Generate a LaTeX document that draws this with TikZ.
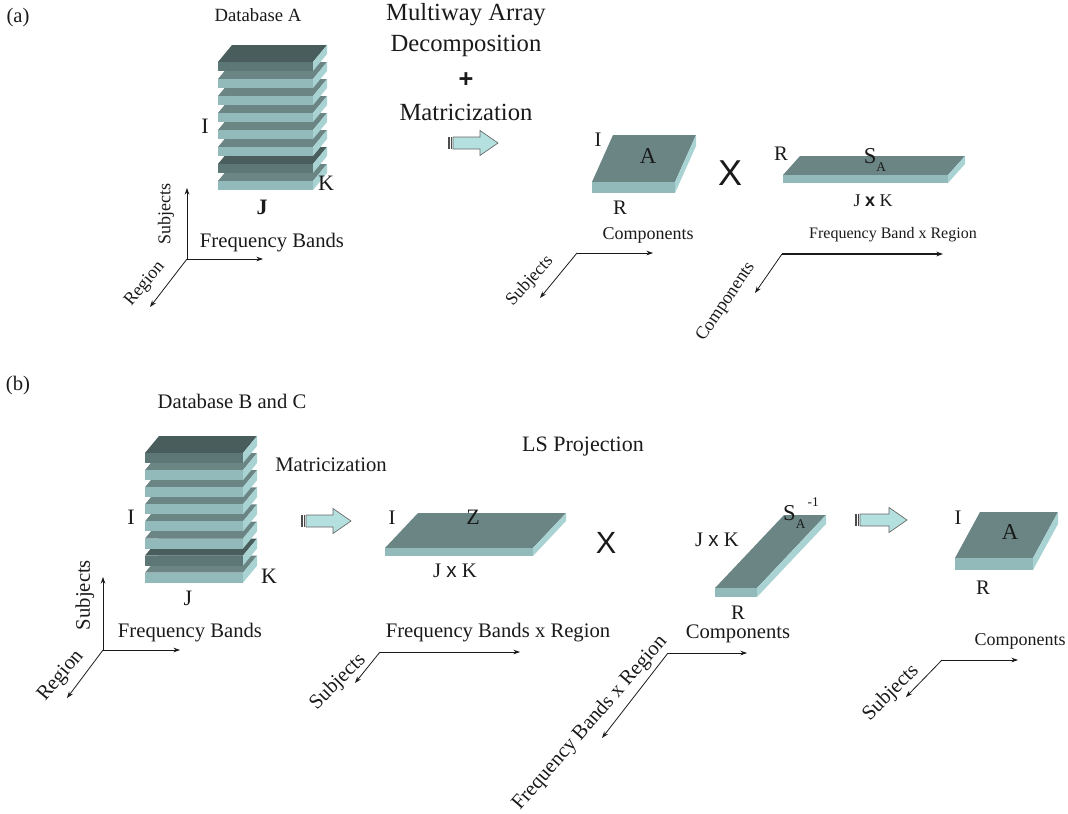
\documentclass[tikz,border=0pt]{standalone}
\usepackage{fontspec}
\setmainfont{Liberation Serif}
\newfontfamily\sansx{Liberation Sans}
\usetikzlibrary{arrows.meta,positioning}

\definecolor{ink}{HTML}{1A1A1A}
\definecolor{slabtop}{HTML}{6B8585}
\definecolor{slabfront}{HTML}{93BABA}
\definecolor{slabside}{HTML}{A9D3D3}
\definecolor{slabdark}{HTML}{4A5D5D}
\definecolor{slabmid}{HTML}{5D7777}
\definecolor{arrowfill}{HTML}{B5E0E0}

% one slab: front-left corner x,y; width; depth dx,dy; thickness; top and front colour
\newcommand{\slab}[8]{%
  \fill[#7] (#1,#2) -- ++(#3,0) -- ++(#4,#5) -- ++(-#3,0) -- cycle;
  \fill[#8] (#1,#2) rectangle ++(#3,#6);
  \fill[slabside] (#1+#3,#2) -- ++(#4,#5) -- ++(0,#6) -- (#1+#3,#2+#6) -- cycle;
}
% block arrow: tail x,y; length
\newcommand{\hollowarrow}[3]{%
  \draw[hollow] (#1+5,#2-6) -- (#1+#3-18,#2-6) -- (#1+#3-18,#2-12.5) -- (#1+#3,#2)
    -- (#1+#3-18,#2+12.5) -- (#1+#3-18,#2+6) -- (#1+5,#2+6) -- cycle;
  \fill[gray!60!black] (#1,#2-6) rectangle (#1+1.8,#2+6);
  \fill[gray!60!black] (#1+3,#2-6) rectangle (#1+4.2,#2+6);
}

\tikzset{
  big/.style={font=\fontsize{18.5}{21}\selectfont},
  mid/.style={font=\fontsize{15.5}{18}\selectfont},
  sml/.style={font=\fontsize{13.5}{16}\selectfont},
  tny/.style={font=\fontsize{12}{14}\selectfont},
  dim/.style={font=\fontsize{16.5}{19}\selectfont},
  times/.style={font=\sansx\fontsize{27}{30}\selectfont},
  axis/.style={-{Stealth[length=5pt,width=3.5pt]}, line width=0.6pt, ink},
  hollow/.style={fill=arrowfill, draw=gray!80!black, line width=0.5pt},
}

\begin{document}
\begin{tikzpicture}[x=0.75pt,y=-0.75pt, every node/.style={text=ink, inner sep=0pt}]
\useasboundingbox (0,0) rectangle (1068,814);

%%% (a)
\node[mid] (laba) at (18,18) {(a)};
\node[font=\fontsize{14}{16}\selectfont] (dbA) at (258,15) {Database A};

% stack A
\foreach \i/\tc/\fc in {7/slabtop/slabfront, 6/slabdark/slabmid, 5/slabtop/slabfront,
    4/slabtop/slabfront, 3/slabtop/slabfront, 2/slabtop/slabfront,
    1/slabtop/slabfront, 0/slabdark/slabmid}
  {\slab{218}{62+17*\i}{95}{14}{-17}{9}{\tc}{\fc}}
\node[dim] (IA) at (205,126) {I};
\node[dim] (JA) at (262,207) {\textbf{J}};
\node[dim] (KA) at (326,183) {K};

\coordinate (oA) at (187,259);
\coordinate (oAu) at (187,188);
\coordinate (oAr) at (263,259);
\coordinate (oAd) at (150,307);
\foreach \e in {oAu,oAr,oAd} \draw[axis] (oA) -- (\e);
\node[sml, rotate=90] (subjA) at (166,214) {Subjects};
\node[mid] (freqA) at (272,243) {Frequency Bands};
\node[sml, rotate=50] (regA) at (145,284) {Region};

\node[big] (mw) at (466,15) {Multiway Array};
\node[big] (dec) at (466,46) {Decomposition};
\node[font=\sansx\bfseries\fontsize{19}{21}\selectfont] (plus) at (466,80) {+};
\node[big] (matA) at (466,112) {Matricization};
\hollowarrow{448}{143}{50}

% matrix A
\slab{592}{182}{83}{21}{-47}{11}{slabtop}{slabfront}
\node[mid] (IAm) at (598,140) {I};
\node[font=\fontsize{17}{19}\selectfont] (Am) at (648,156) {A};
\node[mid] (RAm) at (620,208) {R};
\node[sml] (compA) at (648,235) {Components};
\node[times] (xA) at (730,173) {X};

% matrix S_A
\slab{783}{175}{165}{17}{-19}{8}{slabtop}{slabfront}
\node[mid] (RS) at (781,154) {R};
\node[font=\fontsize{17}{19}\selectfont] (SA) at (875,160) {S\raisebox{-0.7ex}{\fontsize{10}{12}\selectfont A}};
\node[sml] (jkA) at (873,201) {J {\sansx\bfseries x} K};
\node[tny] (fbrA) at (893,235) {Frequency Band x Region};

\coordinate (cA) at (577,253);
\coordinate (cAr) at (653,253);
\coordinate (cAd) at (540,298);
\foreach \e in {cAr,cAd} \draw[axis] (cA) -- (\e);
\node[sml, rotate=48] (subjAm) at (530,281) {Subjects};

\coordinate (cS) at (782,254);
\coordinate (cSr) at (943,254);
\coordinate (cSd) at (755,293);
\draw[axis, line width=0.9pt] (cS) -- (cSr);
\draw[axis] (cS) -- (cSd);
\node[sml, rotate=56] (compS) at (726,302) {Components};

%%% (b)
\node[mid] (labb) at (18,386) {(b)};
\node[mid] (dbB) at (232,401) {Database B and C};

% stack B
\foreach \i/\tc/\fc in {7/slabtop/slabfront, 6/slabdark/slabmid, 5/slabtop/slabfront,
    4/slabtop/slabfront, 3/slabtop/slabfront, 2/slabtop/slabfront,
    1/slabtop/slabfront, 0/slabdark/slabmid}
  {\slab{145}{453+17.1*\i}{98}{14}{-17}{10}{\tc}{\fc}}
\node[dim] (IB) at (131,517) {I};
\node[dim] (JB) at (188,598) {J};
\node[dim] (KB) at (269,576) {K};

\coordinate (oB) at (103,650);
\coordinate (oBu) at (103,577);
\coordinate (oBr) at (180,650);
\coordinate (oBd) at (67,698);
\foreach \e in {oBu,oBr,oBd} \draw[axis] (oB) -- (\e);
\node[mid, rotate=90] (subjB) at (85,595) {Subjects};
\node[mid] (freqB) at (190,633) {Frequency Bands};
\node[mid, rotate=50] (regB) at (61,676) {Region};

\node[mid] (matB) at (331,465) {Matricization};
\hollowarrow{301}{521}{50}
\node[font=\fontsize{16.5}{19}\selectfont] (ls) at (583,447) {LS Projection};

% matrix Z
\slab{385}{548}{148}{33}{-35}{8}{slabtop}{slabfront}
\node[mid] (IZ) at (392,518) {I};
\node[dim] (Z) at (473,517) {Z};
\node[mid] (jkZ) at (455,571) {J {\sansx x} K};
\node[font=\sansx\fontsize{23}{26}\selectfont] (xB) at (606,543) {X};

\coordinate (cZ) at (380,652);
\coordinate (cZr) at (520,652);
\coordinate (cZd) at (355,683);
\foreach \e in {cZr,cZd} \draw[axis] (cZ) -- (\e);
\node[mid] (fbrZ) at (498,633) {Frequency Bands x Region};
\node[mid, rotate=45] (subjZ) at (338,682) {Subjects};

% matrix S_A^-1
\slab{715}{588}{42}{69}{-73}{9}{slabtop}{slabfront}
\node[mid] (jkS) at (717,540) {J {\sansx x} K};
\node[font=\fontsize{17}{19}\selectfont] (SAi) at (801,513)
  {S\raisebox{-0.8ex}{\fontsize{10}{12}\selectfont A}\raisebox{1.3ex}{\fontsize{10}{12}\selectfont\,-1}};
\node[mid] (RSi) at (738,613) {R};
\node[mid] (compSi) at (738,634) {Components};

\coordinate (cSi) at (668,653);
\coordinate (cSir) at (747,653);
\coordinate (cSid) at (602,738);
\foreach \e in {cSir,cSid} \draw[axis] (cSi) -- (\e);
\node[mid, rotate=49] (fbrSi) at (590,723) {Frequency Bands x Region};

\hollowarrow{855}{520}{52}

% result A
\slab{955}{558}{78}{25}{-46}{12}{slabtop}{slabfront}
\node[mid] (IR) at (958,518) {I};
\node[font=\fontsize{17}{19}\selectfont] (AR) at (1010,532) {A};
\node[mid] (RR) at (983,588) {R};
\node[sml] (compR) at (1020,641) {Components};

\coordinate (cR) at (942,660);
\coordinate (cRr) at (1018,660);
\coordinate (cRd) at (906,697);
\foreach \e in {cRr,cRd} \draw[axis] (cR) -- (\e);
\node[mid, rotate=45] (subjR) at (891,693) {Subjects};
\end{tikzpicture}
\end{document}
